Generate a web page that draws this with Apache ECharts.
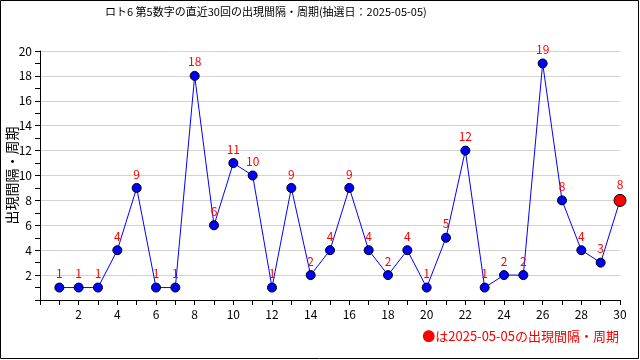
<!DOCTYPE html>
<html><head><meta charset="utf-8">
<script src="https://cdn.jsdelivr.net/npm/echarts@6/dist/echarts.min.js"></script>
<style>html,body{margin:0;padding:0;background:#fff}#c{width:640px;height:360px}</style>
</head><body><div id="c"></div>
<script>
const titleText = 'ロト6 第5数字の直近30回の出現間隔・周期(抽選日：2025-05-05)';
const yAxisName = '出現間隔・周期';
const noteText = '●は2025-05-05の出現間隔・周期';
const draws = [1,2,3,4,5,6,7,8,9,10,11,12,13,14,15,16,17,18,19,20,21,22,23,24,25,26,27,28,29,30];
const intervals = [1,1,1,4,9,1,1,18,6,11,10,1,9,2,4,9,4,2,4,1,5,12,1,2,2,19,8,4,3,8];

const FONT = '"Noto Sans CJK JP", "DejaVu Sans", sans-serif';
const pts = draws.map((d, i) => {
  const last = i === draws.length - 1;
  return {
    value: [d, intervals[i]],
    symbolSize: last ? 12 : 9,
    itemStyle: { color: last ? '#ff0000' : '#0000ff', borderColor: '#000', borderWidth: 1 }
  };
});

const chart = echarts.init(document.getElementById('c'), null, { renderer: 'canvas' });
chart.setOption({
  animation: false,
  backgroundColor: '#fff',
  textStyle: { fontFamily: FONT },
  title: {
    text: titleText, left: 100, top: 1,
    textStyle: { fontSize: 11, fontWeight: 'normal', color: '#000', fontFamily: FONT }
  },
  grid: { left: 40, right: 20, top: 51, bottom: 60, containLabel: false, outerBoundsMode: 'none' },
  xAxis: {
    type: 'value', min: 0, max: 30, interval: 2,
    axisLine: { show: true, onZero: false, lineStyle: { color: '#000', width: 1 } },
    axisTick: { show: true, length: 5, lineStyle: { color: '#000' } },
    minorTick: { show: true, splitNumber: 2, length: 5, lineStyle: { color: '#000' } },
    axisLabel: { color: '#000', fontSize: 12, margin: 8, fontFamily: FONT,
      formatter: v => v === 0 ? '' : String(v) },
    splitLine: { show: false }
  },
  yAxis: {
    type: 'value', min: 0, max: 20, interval: 2,
    name: yAxisName, nameLocation: 'middle', nameGap: 21, nameRotate: 90, nameMoveOverlap: false,
    nameTextStyle: { color: '#000', fontSize: 14, fontFamily: FONT },
    axisLine: { show: true, lineStyle: { color: '#000', width: 1 } },
    axisTick: { show: true, length: 5, lineStyle: { color: '#000' } },
    minorTick: { show: true, splitNumber: 2, length: 5, lineStyle: { color: '#000' } },
    axisLabel: { color: '#000', fontSize: 12, margin: 8, fontFamily: FONT,
      formatter: v => v === 0 ? '' : String(v) },
    splitLine: { show: true, lineStyle: { color: '#d3d3d3', width: 1 } }
  },
  series: [{
    type: 'line',
    data: pts,
    symbol: 'circle',
    lineStyle: { color: '#0000ff', width: 1 },
    label: { show: true, position: 'top', distance: 3, color: '#ff0000', fontSize: 12, fontFamily: FONT,
      formatter: p => String(p.value[1]) },
    z: 3
  }],
  graphic: [
    { type: 'rect', shape: { x: 0.5, y: 0.5, width: 638, height: 358 },
      style: { fill: 'none', stroke: '#000', lineWidth: 1 }, z: 100 },
    { type: 'text', right: 21, top: 330,
      style: { text: noteText, fill: '#ff0000', font: '13px ' + FONT } }
  ]
});
</script></body></html>
